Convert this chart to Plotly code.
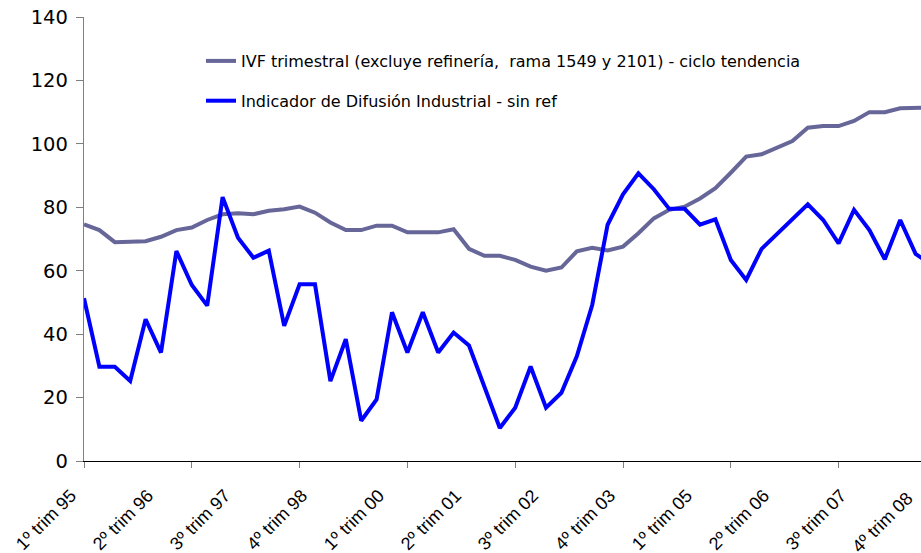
import plotly.graph_objects as go

# ---- data ----
quarter_index = list(range(56))  # 1º trim 95 ... 4º trim 08

ivf_ciclo_tendencia = [
    74.6, 72.8, 69.0, 69.0, 69.3, 70.7, 72.8, 73.6, 76.0, 77.8,
    78.1, 77.8, 78.9, 79.4, 80.2, 78.3, 75.2, 72.8, 72.8, 74.2,
    74.2, 72.1, 72.1, 72.1, 73.1, 66.9, 64.7, 64.7, 63.4, 61.3,
    60.0, 61.0, 66.1, 67.2, 66.4, 67.6, 71.8, 76.5, 79.2, 80.2,
    82.8, 86.0, 90.9, 96.0, 96.7, 98.8, 100.9, 105.1, 105.6, 105.6,
    107.2, 110.0, 110.0, 111.2, 111.2, 111.5,
]

difusion_industrial = [
    51.3, 29.7, 29.7, 25.2, 44.7, 34.2, 66.2, 55.5, 49.0, 83.2,
    70.4, 64.1, 66.3, 42.6, 55.7, 55.7, 25.2, 38.4, 12.7, 19.4,
    46.9, 34.2, 46.9, 34.2, 40.5, 36.4, 23.4, 10.4, 16.8, 29.8,
    16.8, 21.5, 33.0, 49.2, 74.5, 84.1, 90.7, 85.7, 79.5, 79.5,
    74.5, 76.2, 63.4, 57.1, 66.9, 71.6, 76.0, 80.9, 76.0, 68.6,
    79.2, 72.8, 63.6, 76.0, 65.3, 62.0,
]

tick_label_positions = [0, 5, 10, 15, 20, 25, 30, 35, 40, 45, 50, 55]
tick_labels = ["1º trim 95", "2º trim 96", "3º trim 97", "4º trim 98",
               "1º trim 00", "2º trim 01", "3º trim 02", "4º trim 03",
               "1º trim 05", "2º trim 06", "3º trim 07", "4º trim 08"]
tick_mark_positions = [0, 7, 14, 21, 28, 35, 42, 49]

y_ticks = [0, 20, 40, 60, 80, 100, 120, 140]

name_ivf = "IVF trimestral (excluye refinería,  rama 1549 y 2101) - ciclo tendencia"
name_dif = "Indicador de Difusión Industrial - sin ref"

# ---- layout constants ----
W, H = 921, 553
ML, MR, MT, MB = 84, 0, 17, 92
PW, PH = W - ML - MR, H - MT - MB
X_RANGE = [0, 54.35]
LABEL_SHIFT, LABEL_DROP = -13, 16
LABEL_FONT = dict(family="Liberation Sans, Arial", size=18, color="#000000")

fig = go.Figure()
fig.add_trace(go.Scatter(
    x=quarter_index, y=ivf_ciclo_tendencia, mode="lines", name=name_ivf,
    line=dict(color="#666699", width=4), legendgroup="a"))
fig.add_trace(go.Scatter(
    x=quarter_index, y=difusion_industrial, mode="lines", name=name_dif,
    line=dict(color="#0000FF", width=4), legendgroup="b"))
# invisible helper trace for the label axis
fig.add_trace(go.Scatter(
    x=[quarter_index[0]], y=[0], xaxis="x2", mode="markers",
    marker=dict(opacity=0), showlegend=False, hoverinfo="skip"))

visible_pos = [p for p in tick_label_positions if X_RANGE[0] <= p <= X_RANGE[1]]
visible_lab = [l for p, l in zip(tick_label_positions, tick_labels) if X_RANGE[0] <= p <= X_RANGE[1]]

fig.update_layout(
    width=W, height=H,
    margin=dict(l=ML, r=MR, t=MT, b=MB, autoexpand=False),
    paper_bgcolor="white", plot_bgcolor="white",
    showlegend=True,
    legend=dict(
        x=(201 - ML) / PW, y=(461 - 44) / PH,
        xanchor="left", yanchor="top",
        font=dict(family="DejaVu Sans", size=16, color="#000000"),
        bgcolor="rgba(0,0,0,0)", traceorder="grouped", tracegroupgap=16,
    ),
    xaxis=dict(
        range=X_RANGE, showgrid=False, zeroline=False, automargin=False,
        showline=True, linecolor="#000000", linewidth=1.3,
        tickmode="array", tickvals=tick_mark_positions, ticks="outside",
        ticklen=6, tickcolor="#808080", tickwidth=1.3,
        showticklabels=False,
    ),
    xaxis2=dict(
        range=X_RANGE, overlaying="x", anchor="y", side="bottom",
        showgrid=False, zeroline=False, showline=False, automargin=False,
        tickmode="array", tickvals=visible_pos, ticktext=visible_lab,
        ticks="outside", ticklen=LABEL_DROP, tickcolor="rgba(0,0,0,0)",
        tickangle=-45, ticklabelshift=LABEL_SHIFT,
        tickfont=LABEL_FONT,
    ),
    yaxis=dict(
        range=[0, 140], showgrid=False, zeroline=False, automargin=False,
        showline=True, linecolor="#808080", linewidth=1.3,
        tickmode="array", tickvals=y_ticks, ticks="outside",
        ticklen=7, tickcolor="#808080", tickwidth=1.3,
        ticklabelstandoff=4,
        tickfont=dict(family="DejaVu Sans", size=19.5, color="#000000"),
    ),
)

# last label sits at the right page edge
last_pos = tick_label_positions[-1]
fig.add_annotation(
    x=(last_pos - X_RANGE[0]) / (X_RANGE[1] - X_RANGE[0]), xref="paper",
    y=0, yref="paper", text=tick_labels[-1], showarrow=False,
    textangle=-45, xanchor="right", yanchor="top",
    xshift=-11, yshift=-24, font=LABEL_FONT,
)

fig.write_html("out.html", config={"displayModeBar": False},
               post_script="document.body.style.margin='0px';")
